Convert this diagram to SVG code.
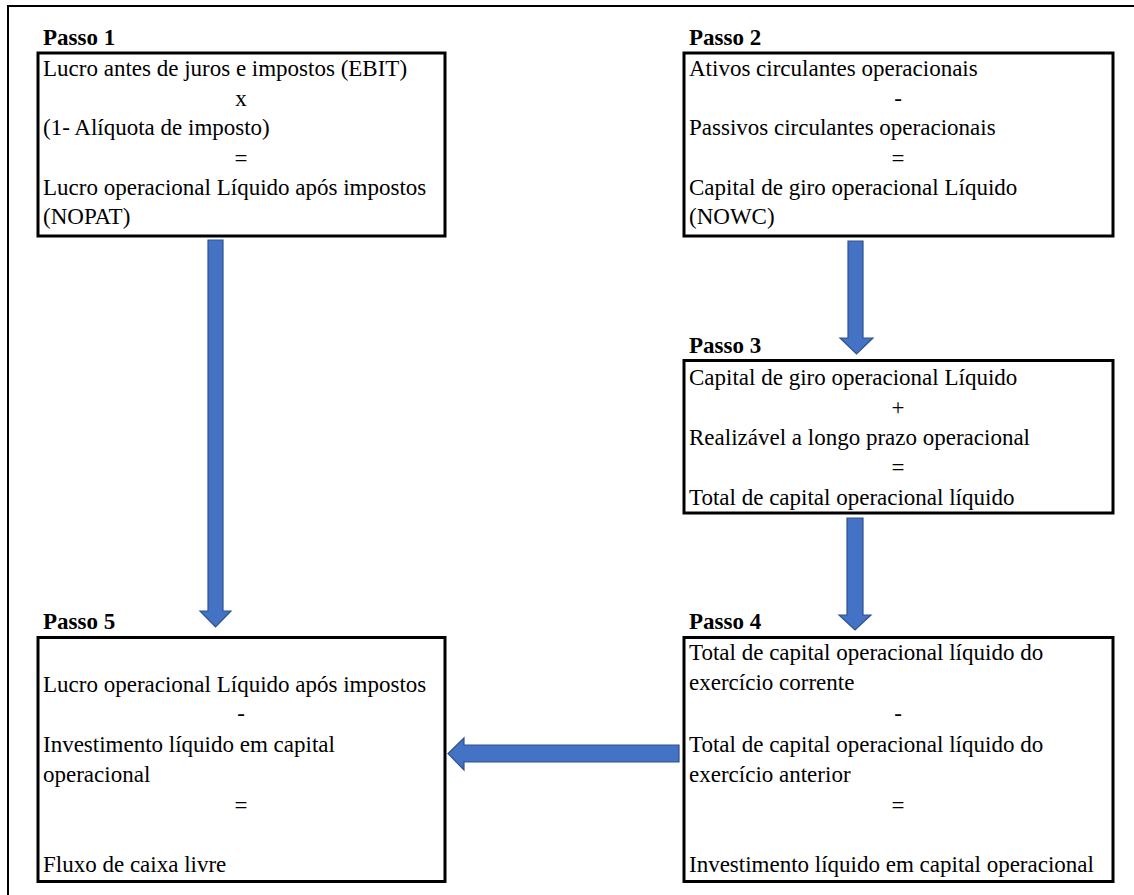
<svg xmlns="http://www.w3.org/2000/svg" width="1134" height="895" viewBox="0 0 1134 895">
<style>
.box{fill:#fff;stroke:#000;stroke-width:3}
.t{font-family:'Liberation Serif','Times New Roman',serif;font-size:23px;fill:#000}
.c{text-anchor:middle}
.h{font-family:'Liberation Serif','Times New Roman',serif;font-size:23px;font-weight:bold;fill:#000}
.arr{fill:#4472C4;stroke:#2F528F;stroke-width:1.2}
</style>
<rect width="1134" height="895" fill="#fff"/>
<path d="M8 895 V6 H1134" fill="none" stroke="#000" stroke-width="2"/>

<g id="passo1">
<text class="h" x="43" y="45">Passo 1</text>
<rect class="box" x="38" y="53" width="407" height="183"/>
<text class="t" x="43" y="76">Lucro antes de juros e impostos (EBIT)</text>
<text class="t c" x="241" y="106">x</text>
<text class="t" x="43" y="135">(1- Alíquota de imposto)</text>
<text class="t c" x="241" y="166">=</text>
<text class="t" x="43" y="195">Lucro operacional Líquido após impostos</text>
<text class="t" x="43" y="224">(NOPAT)</text>
</g>

<g id="passo2">
<text class="h" x="689" y="45">Passo 2</text>
<rect class="box" x="684" y="53" width="429" height="183"/>
<text class="t" x="689" y="76">Ativos circulantes operacionais</text>
<text class="t c" x="898" y="106">-</text>
<text class="t" x="689" y="135">Passivos circulantes operacionais</text>
<text class="t c" x="898" y="166">=</text>
<text class="t" x="689" y="195">Capital de giro operacional Líquido</text>
<text class="t" x="689" y="224">(NOWC)</text>
</g>

<g id="passo3">
<text class="h" x="689" y="353">Passo 3</text>
<rect class="box" x="684" y="360.5" width="429" height="152.5"/>
<text class="t" x="689" y="385">Capital de giro operacional Líquido</text>
<text class="t c" x="898" y="415">+</text>
<text class="t" x="689" y="445">Realizável a longo prazo operacional</text>
<text class="t c" x="898" y="475">=</text>
<text class="t" x="689" y="505">Total de capital operacional líquido</text>
</g>

<g id="passo4">
<text class="h" x="689" y="629">Passo 4</text>
<rect class="box" x="684" y="637.5" width="429" height="244"/>
<text class="t" x="689" y="660">Total de capital operacional líquido do</text>
<text class="t" x="689" y="690">exercício corrente</text>
<text class="t c" x="898" y="721">-</text>
<text class="t" x="689" y="752">Total de capital operacional líquido do</text>
<text class="t" x="689" y="782">exercício anterior</text>
<text class="t c" x="898" y="813">=</text>
<text class="t" x="689" y="872">Investimento líquido em capital operacional</text>
</g>

<g id="passo5">
<text class="h" x="43" y="629">Passo 5</text>
<rect class="box" x="38" y="637.5" width="407" height="244"/>
<text class="t" x="43" y="692">Lucro operacional Líquido após impostos</text>
<text class="t c" x="241" y="721">-</text>
<text class="t" x="43" y="752">Investimento líquido em capital</text>
<text class="t" x="43" y="782">operacional</text>
<text class="t c" x="241" y="813">=</text>
<text class="t" x="43" y="872">Fluxo de caixa livre</text>
</g>

<g id="connectors">
<path class="arr" d="M208 240 H223 V611 H231 L215.5 627 L200 611 H208 Z"/>
<path class="arr" d="M848 241 H863 V338 H873 L856.5 354 L840 338 H848 Z"/>
<path class="arr" d="M847 518 H863 V615 H871 L855 630 L839 615 H847 Z"/>
<path class="arr" d="M679 745 V762 H464 V770 L448 753.5 L464 738 V745 Z"/>
</g>
</svg>
